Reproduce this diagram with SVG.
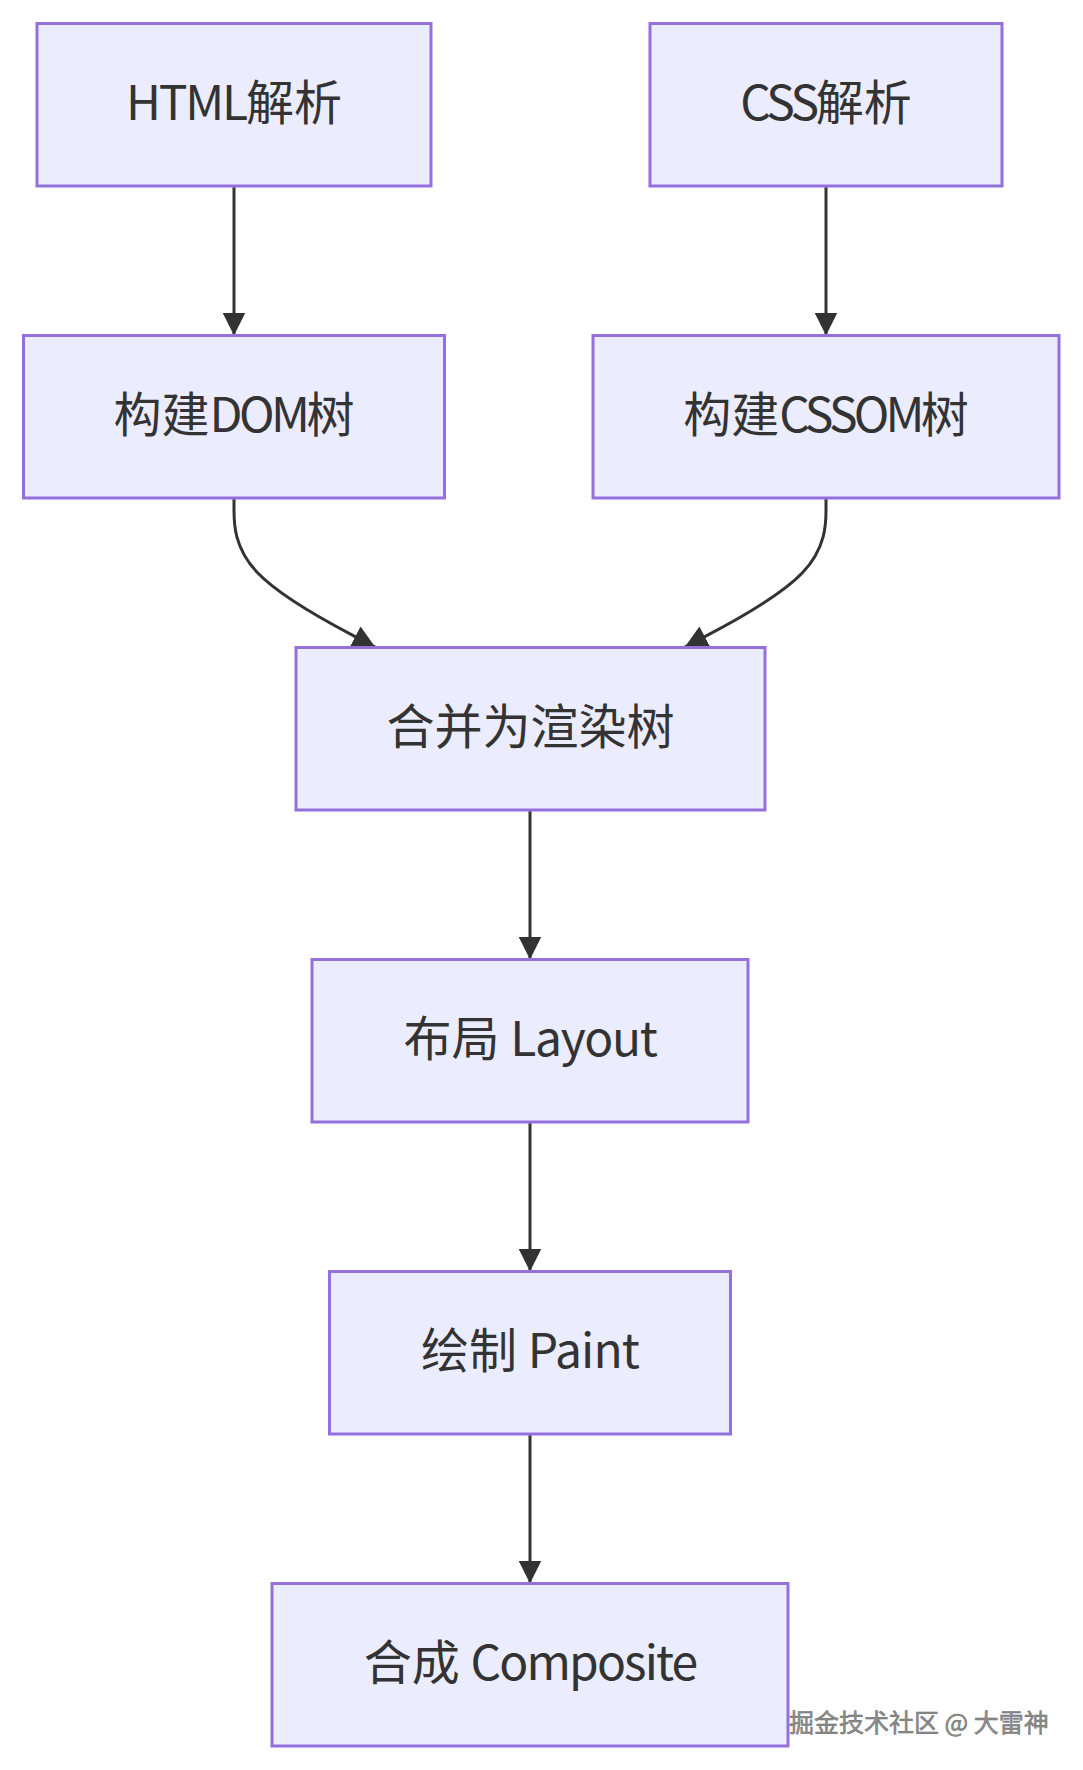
<svg xmlns="http://www.w3.org/2000/svg" width="1083" height="1770" viewBox="0 0 1083 1770">
<style>
.node rect{fill:#ECECFF;stroke:#9370DB;stroke-width:3}
.node text{font-family:"Noto Sans CJK SC","Noto Sans",sans-serif;font-size:48px;fill:#333333;text-anchor:middle}
.edge{fill:none;stroke:#333333;stroke-width:3;marker-end:url(#arrow)}
.wm{font-family:"Noto Sans CJK SC","Noto Sans",sans-serif;font-size:25px;fill:#8e8e8e;stroke:#6a6a6a;stroke-width:0.5}
</style>
<defs>
<marker id="arrow" viewBox="0 0 10 10" refX="10" refY="5" markerUnits="userSpaceOnUse" markerWidth="23" markerHeight="23" orient="auto">
<path d="M0,0 L10,5 L0,10 z" fill="#333333"/>
</marker>
</defs>
<rect width="1083" height="1770" fill="#ffffff"/>
<g id="connectors">
<path class="edge" d="M234,186 L234,335.5"/>
<path class="edge" d="M826,186 L826,335.5"/>
<path class="edge" d="M234,498 L234,510.4 C234,523 234,548 257.6,572.8 C281.2,597.6 328.3,622.5 351.9,634.9 L375.5,647.4"/>
<path class="edge" d="M826,498 L826,510.4 C826,523 826,548 802.4,572.8 C778.8,597.6 731.7,622.5 708.1,634.9 L684.5,647.4"/>
<path class="edge" d="M530,810 L530,959.5"/>
<path class="edge" d="M530,1122 L530,1271.5"/>
<path class="edge" d="M530,1434 L530,1583.5"/>
</g>
<g id="node-html" class="node">
<rect x="37" y="23.5" width="394" height="162.5"/>
<text x="234" y="120.3"><tspan letter-spacing="-2.2">HTML</tspan>解析</text>
</g>
<g id="node-css" class="node">
<rect x="650" y="23.5" width="352" height="162.5"/>
<text x="826" y="120.3"><tspan letter-spacing="-3.5">CSS</tspan>解析</text>
</g>
<g id="node-dom" class="node">
<rect x="23.5" y="335.5" width="421" height="162.5"/>
<text x="234" y="432.3">构建<tspan letter-spacing="-3.5">DOM</tspan>树</text>
</g>
<g id="node-cssom" class="node">
<rect x="593" y="335.5" width="466" height="162.5"/>
<text x="826" y="432.3">构建<tspan letter-spacing="-3.8">CSSOM</tspan>树</text>
</g>
<g id="node-render" class="node">
<rect x="296" y="647.5" width="469" height="162.5"/>
<text x="530.5" y="744.1">合并为渲染树</text>
</g>
<g id="node-layout" class="node">
<rect x="312" y="959.5" width="436" height="162.5"/>
<text x="530" y="1056.3">布局 <tspan letter-spacing="-1.3">Layout</tspan></text>
</g>
<g id="node-paint" class="node">
<rect x="329.5" y="1271.5" width="401" height="162.5"/>
<text x="530" y="1368">绘制 <tspan letter-spacing="-0.9">Paint</tspan></text>
</g>
<g id="node-composite" class="node">
<rect x="272" y="1583.5" width="516" height="162.5"/>
<text x="530" y="1680.3">合成 <tspan letter-spacing="-1.9">Composite</tspan></text>
</g>
<text class="wm" x="789" y="1732">掘金技术社区 @ 大雷神</text>
</svg>
